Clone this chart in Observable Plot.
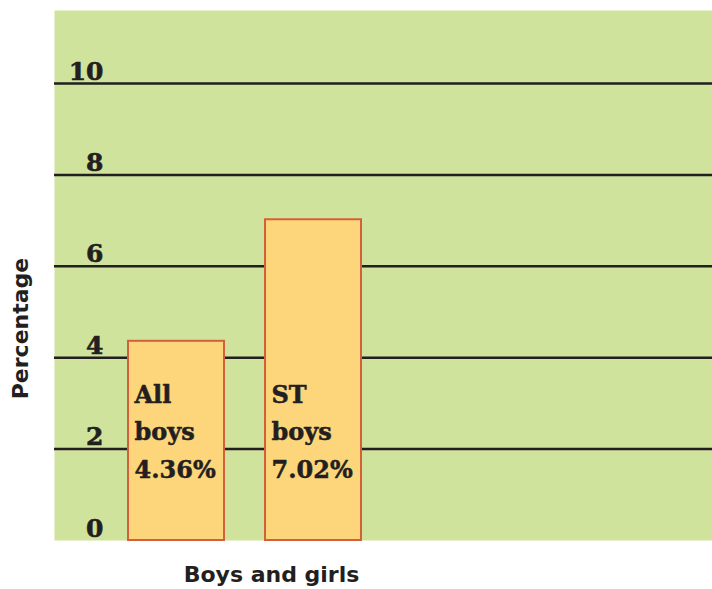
<!DOCTYPE html>
<html>
<head>
<meta charset="utf-8">
<script src="https://cdn.jsdelivr.net/npm/d3@7"></script>
<script src="https://cdn.jsdelivr.net/npm/@observablehq/plot@0.6"></script>
<style>
  html, body { margin: 0; padding: 0; background: #ffffff; }
  #chart { width: 712px; height: 589px; }
</style>
</head>
<body>
<div id="chart"></div>
<script>
const categories = ["All boys", "ST boys"];
const values = [4.36, 7.02];
const yTicks = [0, 2, 4, 6, 8, 10];
const gridValues = [2, 4, 6, 8, 10];
const yLabel = "Percentage";
const xLabel = "Boys and girls";

const data = categories.map((c, i) => ({category: c, value: values[i]}));

const serif = "'DejaVu Serif', serif";
const sans = "'DejaVu Sans', sans-serif";
const ink = "#231f20";

const chart = Plot.plot({
  width: 712,
  height: 589,
  marginLeft: 54,
  marginRight: 0,
  marginTop: 10,
  marginBottom: 49,
  style: {background: "#ffffff"},
  x: {type: "band", domain: categories, range: [127, 361], paddingInner: 0.3, paddingOuter: 0, axis: null},
  y: {domain: [0, 11.6], axis: null},
  marks: [
    Plot.frame({fill: "#d0e39c", stroke: null}),
    Plot.ruleY(gridValues, {stroke: ink, strokeWidth: 2.5}),
    Plot.text(yTicks, {
      y: d => d, text: d => String(d), frameAnchor: "left", dx: 49,
      textAnchor: "end", lineAnchor: "bottom", dy: -4,
      fontFamily: serif, fontWeight: "bold", fontSize: 25, fill: ink,
      stroke: ink, strokeWidth: 0.6
    }),
    Plot.barY(data, {x: "category", y: "value", fill: "#fdd67b", stroke: "#d3603a", strokeWidth: 2, inset: 0}),
    Plot.text(data, {
      x: "category",
      text: d => d.category.split(" ").join("\n") + "\n" + d.value.toFixed(2) + "%",
      frameAnchor: "bottom", textAnchor: "start", lineAnchor: "bottom",
      dx: -42, dy: -63, lineHeight: 1.55,
      fontFamily: serif, fontWeight: "bold", fontSize: 24, fill: ink,
      stroke: ink, strokeWidth: 0.5
    }),
    Plot.text([yLabel], {
      text: d => d, frameAnchor: "left", textAnchor: "middle", dx: -34, dy: 53, rotate: -90,
      fontFamily: sans, fontWeight: "bold", fontSize: 22, fill: ink
    }),
    Plot.text([xLabel], {
      text: d => d, frameAnchor: "bottom-left", textAnchor: "middle", dx: 217, dy: 41,
      fontFamily: sans, fontWeight: "bold", fontSize: 22, fill: ink
    })
  ]
});
document.getElementById("chart").appendChild(chart);
</script>
</body>
</html>
